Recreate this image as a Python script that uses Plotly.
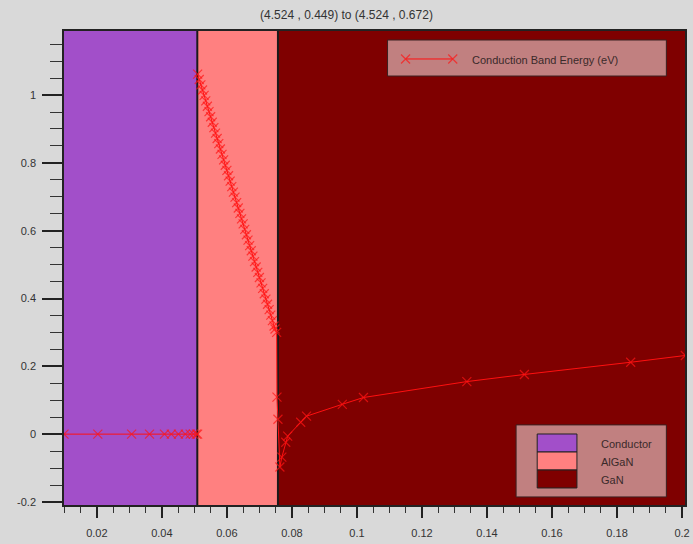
import plotly.graph_objects as go

# Axis extents and tick labels
x_range = [0.0099, 0.2009]
y_range = [-0.209, 1.189]
x_tick_vals = [0.02, 0.04, 0.06, 0.08, 0.10, 0.12, 0.14, 0.16, 0.18, 0.20]
x_tick_text = ["0.02", "0.04", "0.06", "0.08", "0.1", "0.12", "0.14", "0.16", "0.18", "0.2"]
y_tick_vals = [-0.2, 0.0, 0.2, 0.4, 0.6, 0.8, 1.0]
y_tick_text = ["-0.2", "0", "0.2", "0.4", "0.6", "0.8", "1"]

# Material layers (x extents)
layer_names = ["Conductor", "AlGaN", "GaN"]
layer_start = [0.0099, 0.0509, 0.0757]
layer_end = [0.0509, 0.0757, 0.2009]
layer_colors = ["#a24fc9", "#ff8080", "#7f0000"]

# Conduction band energy (eV) in the conductor
cond_x = [0.0099, 0.0203, 0.0307, 0.0362, 0.0408, 0.0429, 0.0451, 0.0472,
          0.0487, 0.0497, 0.0506, 0.0510]
cond_y = [0.0, 0.0, 0.0, 0.0, 0.0, 0.0, 0.0, 0.0, 0.0, 0.0, 0.0, 0.0]

# Conduction band energy (eV) across AlGaN barrier and GaN channel
semi_x = [0.0510, 0.0515, 0.0520, 0.0525, 0.0530, 0.0535, 0.0540, 0.0545,
          0.0550, 0.0555, 0.0560, 0.0565, 0.0570, 0.0575, 0.0580, 0.0585,
          0.0590, 0.0595, 0.0600, 0.0605, 0.0610, 0.0615, 0.0620, 0.0625,
          0.0630, 0.0635, 0.0640, 0.0645, 0.0650, 0.0655, 0.0660, 0.0665,
          0.0670, 0.0675, 0.0680, 0.0685, 0.0690, 0.0695, 0.0700, 0.0705,
          0.0710, 0.0715, 0.0720, 0.0725, 0.0730, 0.0735, 0.0740, 0.0745,
          0.0748, 0.0753, 0.0754, 0.0757, 0.0763, 0.0769, 0.0781, 0.0787,
          0.0827, 0.0845, 0.0955, 0.1020, 0.1338, 0.1515, 0.1842, 0.2010]
semi_y = [1.062, 1.046, 1.030, 1.015, 0.999, 0.983, 0.967, 0.951,
          0.936, 0.920, 0.904, 0.888, 0.872, 0.857, 0.841, 0.825,
          0.809, 0.793, 0.778, 0.762, 0.746, 0.730, 0.714, 0.699,
          0.683, 0.667, 0.651, 0.635, 0.620, 0.604, 0.588, 0.572,
          0.556, 0.541, 0.525, 0.509, 0.493, 0.477, 0.462, 0.446,
          0.430, 0.414, 0.398, 0.383, 0.367, 0.351, 0.335, 0.319,
          0.310, 0.300, 0.109, 0.044, -0.097, -0.068, -0.024, -0.006,
          0.035, 0.053, 0.088, 0.108, 0.155, 0.176, 0.212, 0.232]

title_text = "(4.524 , 0.449) to (4.524 , 0.672)"
series_name = "Conduction Band Energy (eV)"

band_line = dict(color="#ff1010", width=1)
band_marker = dict(symbol="x-thin", size=9, color="rgba(255,20,20,0.7)",
                   line=dict(width=1.2, color="rgba(255,20,20,0.7)"))

fig = go.Figure()

fig.add_trace(go.Scatter(x=cond_x, y=cond_y, mode="lines+markers",
                         line=band_line, marker=band_marker,
                         showlegend=False, cliponaxis=True))
fig.add_trace(go.Scatter(x=semi_x, y=semi_y, mode="lines+markers",
                         line=band_line, marker=band_marker,
                         showlegend=False, cliponaxis=True))

shapes = []
# layer fills
for x0, x1, c in zip(layer_start, layer_end, layer_colors):
    shapes.append(dict(type="rect", xref="x", yref="paper", x0=x0, x1=x1,
                       y0=0, y1=1, fillcolor=c, line=dict(width=0), layer="below"))
# interfaces between layers
for xb in layer_start[1:]:
    shapes.append(dict(type="line", xref="x", yref="paper", x0=xb, x1=xb,
                       y0=0, y1=1, line=dict(color="#1a1a1a", width=2), layer="below"))

legend_bg = "rgb(193,128,128)"
legend_edge = "#3a2020"
# series legend box (kept beneath the sample line)
shapes.append(dict(type="rect", xref="paper", yref="paper", x0=0.521, x1=0.970,
                   y0=0.905, y1=0.981, fillcolor=legend_bg,
                   line=dict(color=legend_edge, width=1), layer="below"))
# layer legend box
shapes.append(dict(type="rect", xref="paper", yref="paper", x0=0.728, x1=0.970,
                   y0=0.017, y1=0.169, fillcolor=legend_bg,
                   line=dict(color=legend_edge, width=1)))
swatch_top = [0.1498, 0.1118, 0.0738]
swatch_bot = [0.1118, 0.0738, 0.0359]
for c, t, b in zip(layer_colors, swatch_top, swatch_bot):
    shapes.append(dict(type="rect", xref="paper", yref="paper", x0=0.762, x1=0.826,
                       y0=b, y1=t, fillcolor=c, line=dict(color="#222", width=1)))

label_font = dict(family="Liberation Sans, Arial", size=11, color="#3a2a2a")
annotations = [dict(text=series_name, xref="paper", yref="paper", x=0.653, y=0.938,
                    xanchor="left", yanchor="middle", showarrow=False, font=label_font)]
label_y = [0.128, 0.090, 0.052]
for name, ly in zip(layer_names, label_y):
    annotations.append(dict(text=name, xref="paper", yref="paper", x=0.861, y=ly,
                            xanchor="left", yanchor="middle", showarrow=False,
                            font=label_font))

# legend sample line with end markers, on a hidden overlay axis in paper units
fig.add_trace(go.Scatter(x=[0.550, 0.626], y=[0.941, 0.941], mode="lines+markers",
                         xaxis="x2", yaxis="y2", line=band_line, marker=band_marker,
                         showlegend=False, cliponaxis=False, hoverinfo="skip"))

tick_font = dict(family="Liberation Sans, Arial", size=11, color="#333333")

fig.update_layout(
    width=693, height=544,
    margin=dict(l=64, r=3, t=31, b=39),
    paper_bgcolor="#d9d9d9",
    plot_bgcolor="#7f0000",
    title=dict(text=title_text, x=0.5, xref="container", xanchor="center",
               y=1 - 15 / 544, yref="container", yanchor="middle",
               font=dict(family="Liberation Sans, Arial", size=12, color="#333333")),
    shapes=shapes,
    annotations=annotations,
    showlegend=False,
    xaxis=dict(range=x_range, tickmode="array", tickvals=x_tick_vals,
               ticktext=x_tick_text, ticks="outside", ticklen=11, tickwidth=2,
               tickcolor="#222222", showgrid=False, zeroline=False,
               showline=True, linecolor="#222222", linewidth=1.5, mirror=True,
               tickfont=tick_font, ticklabelstandoff=6,
               minor=dict(dtick=0.005, tick0=0, ticks="outside", ticklen=6,
                          tickwidth=1, tickcolor="#333333", showgrid=False)),
    yaxis=dict(range=y_range, tickmode="array", tickvals=y_tick_vals,
               ticktext=y_tick_text, ticks="outside", ticklen=20, tickwidth=2,
               tickcolor="#222222", showgrid=False, zeroline=False,
               showline=True, linecolor="#222222", linewidth=1.5, mirror=True,
               tickfont=tick_font, ticklabelstandoff=4,
               minor=dict(dtick=0.05, tick0=0, ticks="outside", ticklen=12,
                          tickwidth=1, tickcolor="#333333", showgrid=False)),
    xaxis2=dict(range=[0, 1], overlaying="x", visible=False, fixedrange=True),
    yaxis2=dict(range=[0, 1], overlaying="y", visible=False, fixedrange=True),
)

fig.write_html("out.html")
